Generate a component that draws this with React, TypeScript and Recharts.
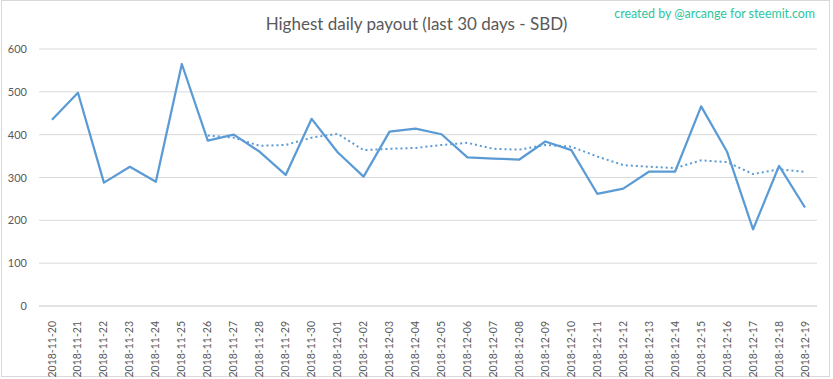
import { LineChart, Line, XAxis, YAxis, CartesianGrid } from "recharts";

// dates shown on the x axis
const DAYS = [
  "2018-11-20", "2018-11-21", "2018-11-22", "2018-11-23", "2018-11-24",
  "2018-11-25", "2018-11-26", "2018-11-27", "2018-11-28", "2018-11-29",
  "2018-11-30", "2018-12-01", "2018-12-02", "2018-12-03", "2018-12-04",
  "2018-12-05", "2018-12-06", "2018-12-07", "2018-12-08", "2018-12-09",
  "2018-12-10", "2018-12-11", "2018-12-12", "2018-12-13", "2018-12-14",
  "2018-12-15", "2018-12-16", "2018-12-17", "2018-12-18", "2018-12-19",
];

// highest payout per day (SBD)
const PAYOUT = [
  435, 498, 288, 325, 290, 565, 386, 400, 360, 306,
  437, 359, 302, 407, 414, 401, 347, 344, 342, 384,
  364, 262, 274, 314, 314, 466, 360, 179, 327, 230,
];

// dotted trend line, starts on the 7th day
const TREND = [
  null, null, null, null, null, null, 398, 393, 374, 376,
  393, 402, 364, 367, 369, 376, 381, 367, 365, 376,
  372, 349, 329, 325, 322, 340, 336, 308, 319, 313,
];

const Y_TICKS = [0, 100, 200, 300, 400, 500, 600];

const data = DAYS.map((day, i) => ({ day, payout: PAYOUT[i], trend: TREND[i] }));

const FONT = "Lato, 'Open Sans', sans-serif";
const BLUE = "#5B9BD5";
const GREY_TEXT = "#595959";

function DateTick({ x, y, payload }: any) {
  return (
    <text
      x={0}
      y={0}
      transform={`translate(${x + 3.5},${y + 7}) rotate(-90)`}
      textAnchor="end"
      fontSize={10.5}
      fontFamily={FONT}
      fill={GREY_TEXT}
    >
      {payload.value}
    </text>
  );
}

function ValueTick({ y, payload }: any) {
  return (
    <text x={27} y={y + 4} textAnchor="end" fontSize={11} fontFamily={FONT} fill={GREY_TEXT}>
      {payload.value}
    </text>
  );
}

export default function App() {
  return (
    <div
      style={{
        position: "absolute",
        top: 0,
        left: 0,
        width: 833,
        height: 379,
        background: "#fff",
        fontFamily: FONT,
      }}
    >
      <div
        style={{
          position: "absolute",
          left: 1,
          top: 0,
          width: 829,
          height: 377,
          border: "1px solid #d9d9d9",
          boxSizing: "border-box",
        }}
      />
      <div
        style={{
          position: "absolute",
          top: 13,
          left: 0,
          width: 833,
          textAlign: "center",
          fontSize: 17,
          color: GREY_TEXT,
        }}
      >
        Highest daily payout (last 30 days - SBD)
      </div>
      <div
        style={{
          position: "absolute",
          top: 6,
          right: 18,
          fontSize: 12.4,
          color: "#2BC5A0",
        }}
      >
        created by @arcange for steemit.com
      </div>
      <div style={{ position: "absolute", top: 0, left: 0 }}>
        <LineChart
          width={833}
          height={379}
          data={data}
          margin={{ top: 49, right: 16, left: 0, bottom: 0 }}
        >
          <CartesianGrid vertical={false} stroke="#d9d9d9" />
          <XAxis
            dataKey="day"
            interval={0}
            height={73}
            padding={{ left: 13, right: 12 }}
            tick={<DateTick />}
            tickLine={false}
            axisLine={{ stroke: "#d9d9d9" }}
          />
          <YAxis
            width={39}
            domain={[0, 600]}
            ticks={Y_TICKS}
            tick={<ValueTick />}
            tickLine={false}
            axisLine={false}
          />
          <Line
            dataKey="trend"
            stroke={BLUE}
            strokeWidth={2}
            strokeDasharray="2 3"
            dot={false}
            connectNulls={false}
            isAnimationActive={false}
          />
          <Line
            dataKey="payout"
            stroke={BLUE}
            strokeWidth={2.25}
            dot={false}
            strokeLinejoin="round"
            isAnimationActive={false}
          />
        </LineChart>
      </div>
    </div>
  );
}
